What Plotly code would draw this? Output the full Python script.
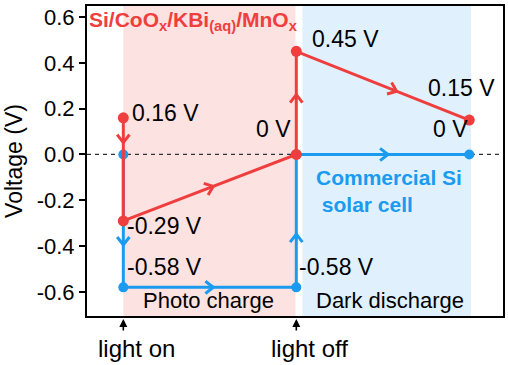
import math
import plotly.graph_objects as go

# ---- data ----
stage_x = [1, 1, 2, 2, 3]            # light on, light on, light off, light off, end
red_v = [0.16, -0.29, 0.0, 0.45, 0.15]
blue_x = [1, 1, 2, 2, 3]
blue_v = [0.0, -0.58, -0.58, 0.0, 0.0]
red_labels = ["0.16 V", "-0.29 V", "0 V", "0.45 V", "0.15 V"]
blue_labels = ["-0.58 V", "-0.58 V", "0 V"]
y_ticks = [0.6, 0.4, 0.2, 0.0, -0.2, -0.4, -0.6]

RED = "#EF3E3E"
BLUE = "#1A9BEF"
FONT = "Liberation Sans, Arial, sans-serif"

W, H = 508, 365
ML, MR, MT, MB = 87, 5, 6, 49
XR = [0.79, 3.195]
YR = [-0.705, 0.648]
px_x = (W - ML - MR) / (XR[1] - XR[0])
px_y = (H - MT - MB) / (YR[1] - YR[0])

fig = go.Figure()

# background regions
fig.add_shape(type="rect", xref="x", yref="paper", x0=stage_x[0], x1=stage_x[2] - 0.005, y0=0, y1=1,
              fillcolor="#FDE2E2", line_width=0, layer="below")
fig.add_shape(type="rect", xref="x", yref="paper", x0=stage_x[2] + 0.035, x1=stage_x[4] + 0.01, y0=0, y1=1,
              fillcolor="#E0F1FD", line_width=0, layer="below")
fig.add_shape(type="line", xref="paper", yref="y", x0=0, x1=1, y0=0, y1=0,
              line=dict(color="#333333", width=1.3, dash="4px,4px"), layer="below")

fig.add_trace(go.Scatter(x=blue_x, y=blue_v, mode="lines+markers",
                         line=dict(color=BLUE, width=3),
                         marker=dict(color=BLUE, size=10), showlegend=False))
fig.add_trace(go.Scatter(x=stage_x, y=red_v, mode="lines+markers",
                         line=dict(color=RED, width=3),
                         marker=dict(color=RED, size=11), showlegend=False))


def chevrons(xs, ys, fracs, color):
    cx, cy = [], []
    arm, ang = 10.0, math.radians(38)
    for i, f in enumerate(fracs):
        x0, y0, x1, y1 = xs[i], ys[i], xs[i + 1], ys[i + 1]
        hx, hy = x0 + f * (x1 - x0), y0 + f * (y1 - y0)
        dx, dy = (x1 - x0) * px_x, (y1 - y0) * px_y
        n = math.hypot(dx, dy)
        ux, uy = -dx / n, -dy / n  # backwards
        for s in (1, -1):
            c, sn = math.cos(s * ang), math.sin(s * ang)
            rx, ry = ux * c - uy * sn, ux * sn + uy * c
            if s == 1:
                cx += [hx + rx * arm / px_x, hx]
                cy += [hy + ry * arm / px_y, hy]
            else:
                cx += [hx + rx * arm / px_x, None]
                cy += [hy + ry * arm / px_y, None]
    fig.add_trace(go.Scatter(x=cx, y=cy, mode="lines", line=dict(color=color, width=3),
                             showlegend=False, hoverinfo="skip"))


red_f = [0.24, 0.52, 0.58, 0.58]
blue_f = [0.68, 0.52, 0.40, 0.53]
chevrons(stage_x, red_v, red_f, RED)
chevrons(blue_x, blue_v, blue_f, BLUE)

annotations = []


def label(x, y, text, xanchor, xshift, yshift, size=23, color="black", bold=False, align="left"):
    t = f"<b>{text}</b>" if bold else text
    annotations.append(dict(x=x, y=y, xref="x", yref="y", text=t, showarrow=False,
                            xanchor=xanchor, yanchor="middle", xshift=xshift, yshift=yshift,
                            align=align, font=dict(family=FONT, size=size, color=color)))


# red labels
label(stage_x[0], red_v[0], red_labels[0], "left", 7, 5)
label(stage_x[1], red_v[1], red_labels[1], "left", 2, -5)
label(stage_x[2], red_v[2], red_labels[2], "right", -3, 25)
label(stage_x[3], red_v[3], red_labels[3], "left", 14, 12)
label(stage_x[4], red_v[4], red_labels[4], "right", 28, 32)
# blue labels
label(blue_x[1], blue_v[1], blue_labels[0], "left", 2, 20)
label(blue_x[2], blue_v[2], blue_labels[1], "left", 1, 20)
label(blue_x[4], blue_v[4], blue_labels[2], "right", 1, 25)

# region labels
label((stage_x[0] + stage_x[2]) / 2 - 0.01, blue_v[1], "Photo charge", "center", 0, -13, size=22)
label((stage_x[2] + stage_x[4]) / 2 + 0.04, blue_v[1], "Dark discharge", "center", 0, -13, size=22)
label(stage_x[2] + 0.1, -0.16, "Commercial Si<br> solar cell", "left", 0, 0, size=21,
      color=BLUE, bold=True)

# title
annotations.append(dict(x=0, y=1, xref="paper", yref="paper", xanchor="left", yanchor="top",
                        xshift=0, yshift=0, showarrow=False, align="left",
                        text="<b>Si/CoO<sub>x</sub>/KBi<sub>(aq)</sub>/MnO<sub>x</sub></b>",
                        font=dict(family=FONT, size=21, color=RED)))

# light on / off
for xv, txt in [(stage_x[0], "light on"), (stage_x[2], "light off")]:
    annotations.append(dict(x=xv, y=0, xref="x", yref="paper", ax=0, ay=16, text="",
                            showarrow=True, arrowhead=2, arrowsize=1, arrowwidth=1.6,
                            arrowcolor="black", standoff=3))
    annotations.append(dict(x=xv, y=0, xref="x", yref="paper", text=txt, showarrow=False,
                            xanchor="center", yanchor="top", xshift=13, yshift=-17,
                            font=dict(family=FONT, size=24, color="black")))

fig.update_layout(
    width=W, height=H,
    margin=dict(l=ML, r=MR, t=MT, b=MB, autoexpand=False),
    plot_bgcolor="white", paper_bgcolor="white",
    showlegend=False,
    annotations=annotations,
    font=dict(family=FONT, color="black"),
)
fig.update_xaxes(range=XR, showticklabels=False, ticks="", showgrid=False, automargin=False,
                 zeroline=False, showline=True, linecolor="black", linewidth=2, mirror=True)
fig.update_yaxes(range=YR, tickvals=y_ticks, automargin=False,
                 ticktext=[f"{v:.1f}" for v in y_ticks], ticks="outside", ticklen=6, tickwidth=2,
                 tickcolor="black", showgrid=False, zeroline=False, showline=True,
                 linecolor="black", linewidth=2, mirror=True,
                 tickfont=dict(family=FONT, size=22, color="black"),
                 title=dict(text="Voltage (V)", font=dict(family=FONT, size=23, color="black"),
                            standoff=8))

fig.write_html("out.html", config={"displayModeBar": False},
               post_script="document.body.style.margin='0';")
